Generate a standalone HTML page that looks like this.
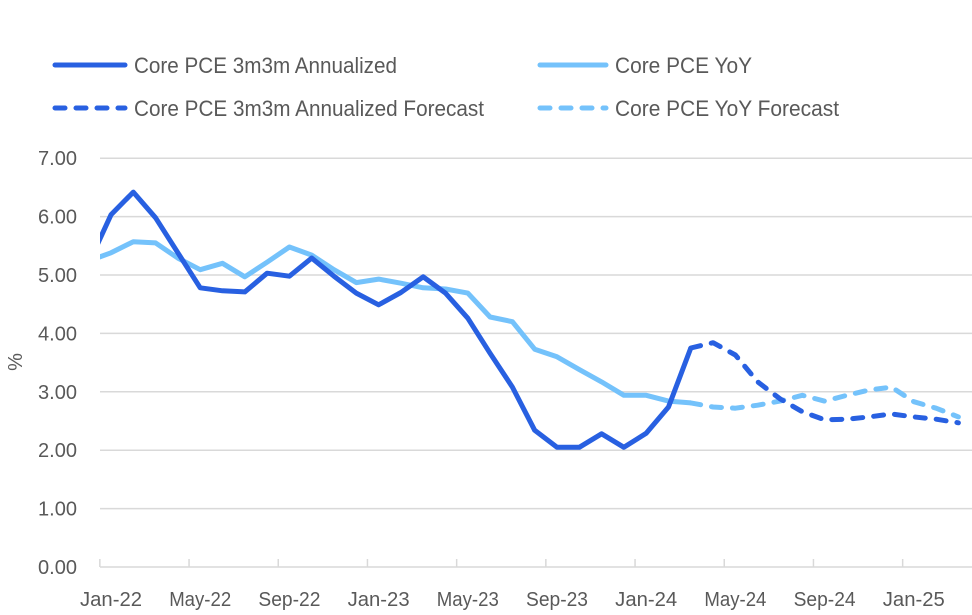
<!DOCTYPE html>
<html><head><meta charset="utf-8"><style>
html,body{margin:0;padding:0;background:#fff;}
svg{display:block;font-family:"Liberation Sans",Arial,sans-serif;}
</style></head><body>
<svg id="chart" width="972" height="615" viewBox="0 0 972 615">
<defs><clipPath id="plotclip"><rect x="100" y="140" width="872" height="440"/></clipPath></defs>
<g id="legend">
 <g><line x1="55" y1="65" x2="125" y2="65" stroke="#2860e1" stroke-width="5" stroke-linecap="round"/><text x="134" y="73" font-size="22" fill="#595959" textLength="263" lengthAdjust="spacingAndGlyphs">Core PCE 3m3m Annualized</text></g>
 <g><line x1="540" y1="65" x2="606" y2="65" stroke="#74c2fb" stroke-width="5" stroke-linecap="round"/><text x="615" y="73" font-size="22" fill="#595959" textLength="137" lengthAdjust="spacingAndGlyphs">Core PCE YoY</text></g>
 <g><line x1="55" y1="108" x2="125" y2="108" stroke="#2860e1" stroke-width="5" stroke-linecap="round" stroke-dasharray="10,11"/><text x="134" y="116" font-size="22" fill="#595959" textLength="350" lengthAdjust="spacingAndGlyphs">Core PCE 3m3m Annualized Forecast</text></g>
 <g><line x1="540" y1="108" x2="606" y2="108" stroke="#74c2fb" stroke-width="5" stroke-linecap="round" stroke-dasharray="10,11"/><text x="615" y="116" font-size="22" fill="#595959" textLength="224" lengthAdjust="spacingAndGlyphs">Core PCE YoY Forecast</text></g>
</g>
<g id="grid"></g>
<g id="yticks"></g>
<g id="xaxis"></g>
<text transform="translate(22,362) rotate(-90)" font-size="20" fill="#595959" text-anchor="middle">%</text>
<g id="series" clip-path="url(#plotclip)"></g>
</svg>
<script>
const months = ["Dec-21","Jan-22","Feb-22","Mar-22","Apr-22","May-22","Jun-22","Jul-22","Aug-22","Sep-22","Oct-22","Nov-22","Dec-22","Jan-23","Feb-23","Mar-23","Apr-23","May-23","Jun-23","Jul-23","Aug-23","Sep-23","Oct-23","Nov-23","Dec-23","Jan-24","Feb-24","Mar-24","Apr-24","May-24","Jun-24","Jul-24","Aug-24","Sep-24","Oct-24","Nov-24","Dec-24","Jan-25","Feb-25","Mar-25"];
const ann3m = [5.2,6.03,6.42,5.98,5.38,4.78,4.73,4.71,5.03,4.98,5.29,4.98,4.69,4.49,4.7,4.97,4.69,4.26,3.66,3.08,2.34,2.05,2.05,2.28,2.05,2.29,2.74,3.75,null,null,null,null,null,null,null,null,null,null,null,null];
const ann3mFc = [null,null,null,null,null,null,null,null,null,null,null,null,null,null,null,null,null,null,null,null,null,null,null,null,null,null,null,3.75,3.84,3.63,3.17,2.88,2.66,2.52,2.53,2.57,2.62,2.57,2.53,2.47];
const yoy = [5.24,5.38,5.57,5.55,5.29,5.09,5.2,4.97,5.22,5.48,5.34,5.09,4.87,4.93,4.86,4.78,4.76,4.69,4.28,4.2,3.73,3.6,3.38,3.17,2.94,2.94,2.84,2.81,null,null,null,null,null,null,null,null,null,null,null,null];
const yoyFc = [null,null,null,null,null,null,null,null,null,null,null,null,null,null,null,null,null,null,null,null,null,null,null,null,null,null,null,2.81,2.74,2.72,2.77,2.84,2.94,2.84,2.94,3.03,3.08,2.83,2.72,2.57];
const yTickValues = [0,1,2,3,4,5,6,7];
const xTickLabels = ["Jan-22","May-22","Sep-22","Jan-23","May-23","Sep-23","Jan-24","May-24","Sep-24","Jan-25"];
const xLabelIdx = [1,5,9,13,17,21,25,29,33,37];

const NS="http://www.w3.org/2000/svg";
const step=22.3;
function xScale(i){return 111+step*(i-1);}
function yScale(v){return 567-v*58.4;}
function mk(tag,attrs,parent){const e=document.createElementNS(NS,tag);for(const k in attrs)e.setAttribute(k,attrs[k]);parent.appendChild(e);return e;}

const grid=document.getElementById('grid'),yt=document.getElementById('yticks'),xa=document.getElementById('xaxis'),ser=document.getElementById('series');
yTickValues.forEach(v=>{
  if(v>0){const g=mk('line',{x1:100,x2:972,y1:yScale(v),y2:yScale(v),stroke:'#d9d9d9','stroke-width':1.5},grid);
  
  }
  const t=mk('text',{x:77,y:yScale(v)+7,'font-size':20,fill:'#595959','text-anchor':'end',textLength:39,lengthAdjust:'spacingAndGlyphs'},yt);
  t.textContent=v.toFixed(2);
  
  
});
const ax=mk('line',{x1:100,x2:972,y1:yScale(0),y2:yScale(0),stroke:'#d9d9d9','stroke-width':1.5},xa);


xLabelIdx.forEach((idx,k)=>{
  const tx=xScale(idx)-11.15;
  const tk=mk('line',{x1:tx,x2:tx,y1:yScale(0)-8,y2:yScale(0),stroke:'#d9d9d9','stroke-width':1.5},xa);
  
  
  const t=mk('text',{x:xScale(idx),y:606,'font-size':20,fill:'#595959','text-anchor':'middle',textLength:62,lengthAdjust:'spacingAndGlyphs'},xa);
  t.textContent=xTickLabels[k];
  
  
});
function path(arr){let d='';arr.forEach((v,i)=>{if(v==null)return;d+=(d?'L':'M')+xScale(i).toFixed(1)+','+yScale(v).toFixed(1);});return d;}
function line(arr,color,dash,name){
  const p=mk('path',{d:path(arr),fill:'none',stroke:color,'stroke-width':5,'stroke-linejoin':'round','stroke-linecap':dash?'round':'butt'},ser);
  if(dash)p.setAttribute('stroke-dasharray','10,11');
  
  
}
line(yoy,'#74c2fb',false,'series-yoy');
line(yoyFc,'#74c2fb',true,'series-yoy-forecast');
line(ann3m,'#2860e1',false,'series-3m3m');
line(ann3mFc,'#2860e1',true,'series-3m3m-forecast');
</script>
</body></html>
